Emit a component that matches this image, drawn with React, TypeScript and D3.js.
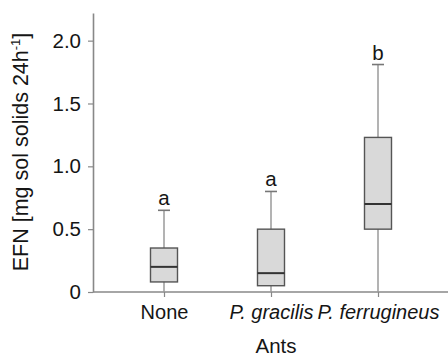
import { useRef, useEffect } from "react";
import * as d3 from "d3";

const groups = ["None", "P. gracilis", "P. ferrugineus"];
const italicGroup = [false, true, true];
const whiskerLow = [0, 0, 0];
const q1 = [0.08, 0.05, 0.5];
const medians = [0.2, 0.15, 0.7];
const q3 = [0.35, 0.5, 1.23];
const whiskerHigh = [0.65, 0.8, 1.81];
const letters = ["a", "a", "b"];
const yTicks = [0, 0.5, 1.0, 1.5, 2.0];

export default function App() {
  const svgRef = useRef<SVGSVGElement>(null);

  useEffect(() => {
    const width = 448;
    const font = "'Liberation Sans', Arial, Helvetica, sans-serif";

    const svg = d3.select(svgRef.current);
    svg.selectAll("*").remove();

    const data = groups.map((g, i) => ({
      group: g,
      lo: whiskerLow[i],
      q1: q1[i],
      med: medians[i],
      q3: q3[i],
      hi: whiskerHigh[i],
      letter: letters[i],
    }));

    const y = d3.scaleLinear().domain([0, 2.22]).range([292, 13]);
    const x = d3.scalePoint().domain(groups).range([164, 378]);
    const boxW = 27;
    const capW = 12;

    // y axis
    const yAxis = svg
      .append("g")
      .attr("transform", "translate(93,0)")
      .call(
        d3
          .axisLeft(y)
          .tickValues(yTicks)
          .tickSize(5)
          .tickSizeOuter(0)
          .tickPadding(7)
          .tickFormat((d) => (d === 0 ? "0" : d3.format(".1f")(d as number))),
      );
    yAxis.select(".domain").attr("stroke", "#888").attr("stroke-width", 1.6);
    yAxis.selectAll(".tick line").attr("stroke", "#888").attr("stroke-width", 1.2);
    yAxis
      .selectAll(".tick text")
      .attr("fill", "#151515")
      .style("font-family", font)
      .style("font-size", "20.5px");

    // x axis
    const xAxis = svg
      .append("g")
      .attr("transform", "translate(0,292)")
      .call(d3.axisBottom(x).tickSize(5).tickSizeOuter(0).tickPadding(8));
    xAxis
      .select(".domain")
      .attr("d", `M93,0H${width}`)
      .attr("stroke", "#888")
      .attr("stroke-width", 1.6);
    xAxis.selectAll(".tick line").attr("stroke", "#888").attr("stroke-width", 1.2);
    xAxis
      .selectAll(".tick text")
      .attr("fill", "#151515")
      .style("font-family", font)
      .style("font-size", "20px")
      .style("font-style", (d) =>
        italicGroup[groups.indexOf(d as string)] ? "italic" : "normal",
      );

    // boxes
    const box = svg
      .selectAll("g.box")
      .data(data)
      .join("g")
      .attr("class", "box")
      .attr("transform", (d) => `translate(${x(d.group)},0)`);

    box
      .append("line")
      .attr("x1", 0)
      .attr("x2", 0)
      .attr("y1", (d) => y(d.lo))
      .attr("y2", (d) => y(d.hi))
      .attr("stroke", "#9a9a9a")
      .attr("stroke-width", 1.5);

    box
      .append("line")
      .attr("x1", -capW / 2)
      .attr("x2", capW / 2)
      .attr("y1", (d) => y(d.hi))
      .attr("y2", (d) => y(d.hi))
      .attr("stroke", "#777")
      .attr("stroke-width", 1.6);

    box
      .append("rect")
      .attr("x", -boxW / 2)
      .attr("width", boxW)
      .attr("y", (d) => y(d.q3))
      .attr("height", (d) => y(d.q1) - y(d.q3))
      .attr("fill", "#d9d9d9")
      .attr("stroke", "#555")
      .attr("stroke-width", 1.4);

    box
      .append("line")
      .attr("x1", -boxW / 2)
      .attr("x2", boxW / 2)
      .attr("y1", (d) => y(d.med))
      .attr("y2", (d) => y(d.med))
      .attr("stroke", "#333")
      .attr("stroke-width", 2);

    box
      .append("text")
      .attr("y", (d) => y(d.hi) - 5)
      .attr("text-anchor", "middle")
      .attr("fill", "#151515")
      .style("font-family", font)
      .style("font-size", "20.5px")
      .text((d) => d.letter);

    // axis titles
    svg
      .append("text")
      .attr("x", 276)
      .attr("y", 353)
      .attr("text-anchor", "middle")
      .attr("fill", "#151515")
      .style("font-family", font)
      .style("font-size", "20.5px")
      .text("Ants");

    const yTitle = svg
      .append("text")
      .attr("transform", "translate(28,152) rotate(-90)")
      .attr("text-anchor", "middle")
      .attr("fill", "#151515")
      .style("font-family", font)
      .style("font-size", "21.5px");
    yTitle.append("tspan").text("EFN [mg sol solids 24h");
    yTitle
      .append("tspan")
      .attr("dy", -8)
      .style("font-size", "13px")
      .text("-1");
    yTitle.append("tspan").attr("dy", 8).text("]");
  }, []);

  return (
    <svg
      ref={svgRef}
      width={448}
      height={356}
      style={{ position: "absolute", left: 0, top: 0, background: "#fff" }}
    />
  );
}
